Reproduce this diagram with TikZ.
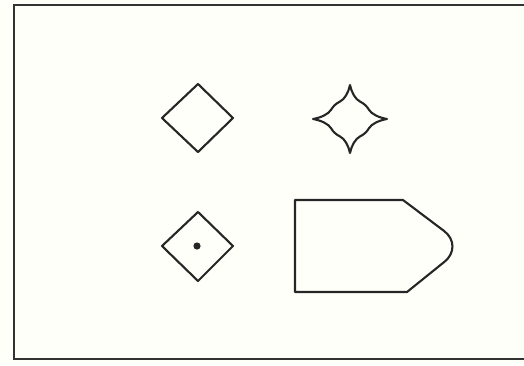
\documentclass[tikz,border=0pt]{standalone}
\begin{document}
\begin{tikzpicture}[x=1pt,y=-1pt,
  shapeline/.style={draw=black!85,line width=2.1pt,line join=round},
  frameline/.style={draw=black!80,line width=2.6pt}]
\useasboundingbox (0,0) rectangle (524,365);
\fill[white!98!yellow] (0,0) rectangle (524,365);
% frame (right side runs off the picture)
\draw[frameline] (530,5) -- (14,5) -- (14,359) -- (530,359);
% diamond top left
\draw[shapeline] (198,84) -- (233,118) -- (198,152) -- (162,118) -- cycle;
% four-point star
\begin{scope}[shift={(350pt,-119pt)},x=37pt,y=34pt]
\draw[shapeline] (0,1)
  .. controls (0.04,0.78) and (0.148,0.578) .. (0.272,0.512)
  .. controls (0.374,0.458) and (0.458,0.374) .. (0.512,0.272)
  .. controls (0.578,0.148) and (0.78,0.04) .. (1,0)
  .. controls (0.78,-0.04) and (0.578,-0.148) .. (0.512,-0.272)
  .. controls (0.458,-0.374) and (0.374,-0.458) .. (0.272,-0.512)
  .. controls (0.148,-0.578) and (0.04,-0.78) .. (0,-1)
  .. controls (-0.04,-0.78) and (-0.148,-0.578) .. (-0.272,-0.512)
  .. controls (-0.374,-0.458) and (-0.458,-0.374) .. (-0.512,-0.272)
  .. controls (-0.578,-0.148) and (-0.78,-0.04) .. (-1,0)
  .. controls (-0.78,0.04) and (-0.578,0.148) .. (-0.512,0.272)
  .. controls (-0.458,0.374) and (-0.374,0.458) .. (-0.272,0.512)
  .. controls (-0.148,0.578) and (-0.04,0.78) .. (0,1) -- cycle;
\end{scope}
% diamond with dot
\draw[shapeline] (198,212) -- (233,246) -- (198,281) -- (162,246) -- cycle;
\fill[black!85] (197,246) circle (3.6);
% pointed box
\draw[shapeline] (295,200) -- (403,200) [rounded corners=25pt] -- (464,246) [sharp corners] -- (407,292) -- (295,292) -- cycle;
\end{tikzpicture}
\end{document}
